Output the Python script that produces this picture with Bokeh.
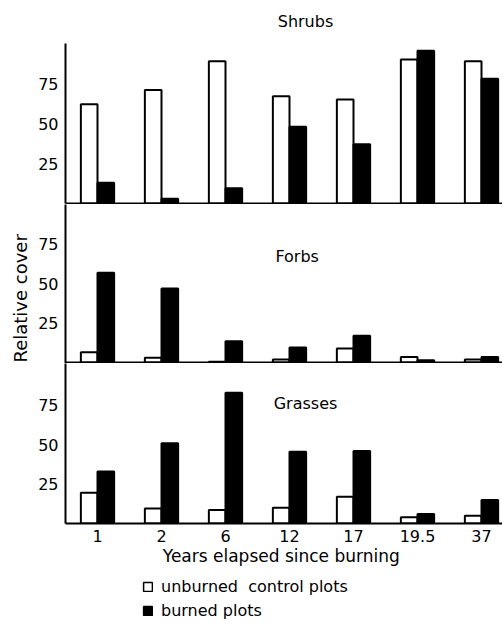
import numpy as np
from bokeh.plotting import figure
from bokeh.models import Range1d, FixedTicker, Label, Span, Legend, LegendItem, Title
from bokeh.layouts import column
from bokeh.embed import file_html
from bokeh.resources import INLINE

# ---- data ----
years = ["1", "2", "6", "12", "17", "19.5", "37"]
shrubs_unburned = [62, 71, 89, 67, 65, 90, 89]
shrubs_burned = [13, 3, 9.5, 48, 37, 95.5, 78]
forbs_unburned = [6.5, 3, 0.5, 2, 9, 3.5, 2]
forbs_burned = [57, 47, 13.5, 9.5, 17, 1.5, 3.5]
grasses_unburned = [19.5, 9.5, 8.5, 10, 17, 4, 5]
grasses_burned = [33, 51, 83, 45.5, 46, 6, 15]
y_ticks = [25, 50, 75]
panel_titles = ["Shrubs", "Forbs", "Grasses"]
legend_labels = ["unburned  control plots", "burned plots"]
x_label = "Years  elapsed since burning"
y_label = "Relative cover"

# ---- layout constants ----
FONT = "DejaVu Sans"
W = 502
LEFT = 65
TOP = 8
PX_PER_GROUP = 64.0
BAR_W = 0.26
X_END = (W - LEFT) / PX_PER_GROUP
centers = np.arange(len(years)) + 0.5


def base_fig(height, y_range, x_axis=False, y_axis=True, left=LEFT, bottom=0,
             top=0):
    p = figure(width=W, height=height,
               x_range=Range1d(0, X_END), y_range=y_range,
               output_backend="svg", toolbar_location=None,
               x_axis_location="below" if x_axis else None,
               y_axis_location="left" if y_axis else None,
               min_border_left=left, min_border_right=0,
               min_border_top=top, min_border_bottom=bottom)
    p.outline_line_color = None
    p.grid.grid_line_color = None
    p.background_fill_color = "white"
    p.border_fill_color = "white"
    return p


def make_panel(unburned, burned, frame_h, px_per_unit, y_start, x_axis=False,
               bounds=None, bottom=0, top=0):
    y_end = y_start + frame_h / px_per_unit
    p = base_fig(frame_h + bottom + top, Range1d(y_start, y_end), x_axis=x_axis,
                 bottom=bottom, top=top)
    ya = p.yaxis[0]
    ya.ticker = FixedTicker(ticks=y_ticks)
    ya.axis_line_width = 2
    ya.axis_line_color = "black"
    ya.major_tick_out = 0
    ya.major_tick_in = 0
    ya.major_label_standoff = 7
    ya.major_label_text_font = FONT
    ya.major_label_text_font_size = "16px"
    ya.major_label_text_color = "black"
    if bounds is not None:
        ya.bounds = bounds
    p.vbar(x=centers - BAR_W / 2, top=unburned, bottom=0, width=BAR_W,
           fill_color="white", line_color="black", line_width=2)
    p.vbar(x=centers + BAR_W / 2, top=burned, bottom=0, width=BAR_W,
           fill_color="black", line_color="black", line_width=2)
    if not x_axis:
        p.add_layout(Span(location=0, dimension="width", line_color="black",
                          line_width=2))
    return p


def title_label(p, text, x, y):
    p.add_layout(Label(x=x, y=y, text=text, text_align="center",
                       text_baseline="middle", text_font=FONT,
                       text_font_size="16px", text_color="black"))


# Shrubs
p1 = make_panel(shrubs_unburned, shrubs_burned, 196, 1.6, -0.6,
                bounds=(0, 100), top=TOP)
title_label(p1, panel_titles[0], 3.75, 113.5)

# Forbs
p2 = make_panel(forbs_unburned, forbs_burned, 159, 1.575, -0.6)
title_label(p2, panel_titles[1], 3.62, 67.5)
p2.add_layout(Title(text=y_label, align="left", offset=1, standoff=10,
                    text_font=FONT, text_font_size="18px",
                    text_font_style="normal", text_color="black"), "left")

# Grasses
p3 = make_panel(grasses_unburned, grasses_burned, 160, 1.575, 0, x_axis=True,
                bottom=50)
title_label(p3, panel_titles[2], 3.75, 76.5)
xa = p3.xaxis[0]
xa.ticker = FixedTicker(ticks=list(centers))
xa.major_label_overrides = {float(c): t for c, t in zip(centers, years)}
xa.axis_line_width = 2
xa.axis_line_color = "black"
xa.major_tick_out = 0
xa.major_tick_in = 0
xa.major_label_standoff = 6
xa.major_label_text_font = FONT
xa.major_label_text_font_size = "16px"
xa.major_label_text_color = "black"
xa.axis_label = x_label
xa.axis_label_standoff = 1
xa.axis_label_text_font = FONT
xa.axis_label_text_font_size = "17px"
xa.axis_label_text_font_style = "normal"
xa.axis_label_text_color = "black"

# Legend panel (hidden renderers only provide the legend keys)
p4 = base_fig(52, Range1d(0, 100), y_axis=False)
lu = p4.vbar(x=centers - BAR_W / 2, top=grasses_unburned, width=BAR_W,
             fill_color="white", line_color="black", line_width=1.5,
             visible=False)
lb = p4.vbar(x=centers + BAR_W / 2, top=grasses_burned, width=BAR_W,
             fill_color="black", line_color="black", line_width=1.5,
             visible=False)
legend = Legend(items=[LegendItem(label=legend_labels[0], renderers=[lu]),
                       LegendItem(label=legend_labels[1], renderers=[lb])],
                location=(77, 5), orientation="vertical", click_policy="none",
                label_text_font=FONT, label_text_font_size="16px",
                label_text_color="black", glyph_width=11, glyph_height=11,
                label_height=20, label_standoff=8, spacing=4, padding=0,
                margin=0, border_line_color=None, background_fill_alpha=0)
p4.add_layout(legend)

layout = column(p1, p2, p3, p4, spacing=0)
open("out.html", "w").write(file_html(layout, INLINE))
